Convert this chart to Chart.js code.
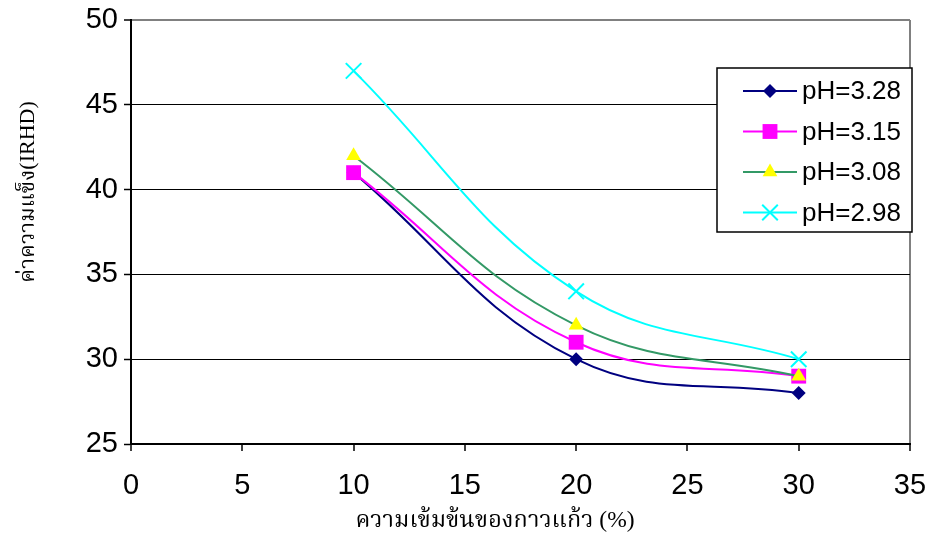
<!DOCTYPE html>
<html>
<head>
<meta charset="utf-8">
<script src="https://cdn.jsdelivr.net/npm/chart.js@4"></script>
<style>
  html, body { margin: 0; padding: 0; background: #fff; }
  #wrap { width: 934px; height: 538px; position: relative; }
</style>
</head>
<body>
<div id="wrap"><canvas id="chart"></canvas></div>
<script>
// glass-ionomer concentration (%) vs hardness (IRHD)
const concentration = [10, 20, 30]
const ph328 = [41, 30, 28]
const ph315 = [41, 31, 29]
const ph308 = [42, 32, 29]
const ph298 = [47, 34, 30]
const seriesNames = ['pH=3.28', 'pH=3.15', 'pH=3.08', 'pH=2.98']
const xTicks = [0, 5, 10, 15, 20, 25, 30, 35]
const yTicks = [25, 30, 35, 40, 45, 50]

const xTitle = 'ความเข้มข้นของกาวแก้ว (%)'
const yTitle = 'ค่าความแข็ง(IRHD)'

function pts(values) {
  return concentration.map((c, i) => ({ x: c, y: values[i] }))
}

const styles = [
  { line: '#000080', fill: '#000080', style: 'rectRot', radius: 7, bw: 0 },
  { line: '#FF00FF', fill: '#FF00FF', style: 'rect', radius: 10.5, bw: 0 },
  { line: '#339966', fill: '#FFFF00', style: 'triangle', radius: 8.5, bw: 0 },
  { line: '#00FFFF', fill: '#00FFFF', style: 'crossRot', radius: 11, bw: 2 }
]
const allValues = [ph328, ph315, ph308, ph298]

const datasets = allValues.map((vals, i) => ({
  label: seriesNames[i],
  data: pts(vals),
  borderColor: styles[i].line,
  borderWidth: 2,
  tension: 0.4,
  pointStyle: styles[i].style,
  pointRadius: styles[i].radius,
  pointBackgroundColor: styles[i].fill,
  pointBorderColor: styles[i].fill,
  pointBorderWidth: styles[i].bw,
  order: 3 - i
}))

const tickFont = { family: '"Liberation Sans", Arial, sans-serif', size: 29 }
const thaiFont = '"Liberation Serif", "Noto Serif Thai", "Noto Sans Thai", serif'

// keep the plot area fixed: no extra room for overhanging tick labels
function noPad(axis) {
  axis.paddingLeft = 0
  axis.paddingRight = 0
  axis.paddingTop = 0
  axis.paddingBottom = 0
}

// legend box and axis titles drawn straight on the canvas
const extras = {
  id: 'extras',
  afterDraw(chart) {
    const ctx = chart.ctx
    ctx.save()
    // legend
    const bx = 717, by = 68, bw = 195, bh = 164
    ctx.fillStyle = '#fff'
    ctx.fillRect(bx, by, bw, bh)
    ctx.strokeStyle = '#000'
    ctx.lineWidth = 1.5
    ctx.strokeRect(bx, by, bw, bh)
    ctx.font = '26px "Liberation Sans", Arial, sans-serif'
    ctx.textBaseline = 'middle'
    seriesNames.forEach((name, i) => {
      const y = 91 + i * 40.5
      const s = styles[i]
      ctx.strokeStyle = s.line
      ctx.lineWidth = 2
      ctx.beginPath()
      ctx.moveTo(743, y)
      ctx.lineTo(797, y)
      ctx.stroke()
      ctx.fillStyle = s.fill
      ctx.strokeStyle = s.fill
      ctx.lineWidth = s.bw
      Chart.helpers.drawPoint(ctx, { pointStyle: s.style, radius: s.radius, borderWidth: s.bw }, 770, y)
      ctx.fillStyle = '#000'
      ctx.fillText(name, 802, y + 1)
    })
    // axis titles
    ctx.fillStyle = '#000'
    ctx.textAlign = 'center'
    ctx.textBaseline = 'middle'
    ctx.font = '23.5px ' + thaiFont
    ctx.fillText(xTitle, 495, 521)
    ctx.font = '22px ' + thaiFont
    ctx.translate(28, 192)
    ctx.rotate(-Math.PI / 2)
    ctx.fillText(yTitle, 0, 0)
    ctx.restore()
  }
}

new Chart(document.getElementById('chart'), {
  type: 'line',
  data: { datasets },
  options: {
    responsive: true,
    maintainAspectRatio: false,
    animation: false,
    layout: { padding: { left: 0, top: 20, right: 24, bottom: 0 } },
    plugins: { legend: { display: false }, tooltip: { enabled: false } },
    scales: {
      x: {
        type: 'linear',
        min: 0,
        max: 35,
        afterBuildTicks: axis => { axis.ticks = xTicks.map(v => ({ value: v })) },
        afterFit: axis => { axis.height = 94; noPad(axis) },
        border: { color: '#000', width: 2 },
        grid: {
          color: c => c.tick && c.tick.value === 35 ? '#808080' : 'rgba(0,0,0,0)',
          lineWidth: 2,
          tickColor: '#000',
          tickLength: 7,
          tickWidth: 1.5
        },
        ticks: {
          color: '#000',
          font: tickFont,
          padding: 18,
          maxRotation: 0
        }
      },
      y: {
        min: 25,
        max: 50,
        afterBuildTicks: axis => { axis.ticks = yTicks.map(v => ({ value: v })) },
        afterFit: axis => { axis.width = 131; noPad(axis) },
        border: { color: '#000', width: 2 },
        grid: {
          color: c => c.tick && c.tick.value === 50 ? '#808080' : '#000',
          lineWidth: c => c.tick && c.tick.value === 50 ? 2 : 1,
          tickColor: '#000',
          tickLength: 7,
          tickWidth: 1.5
        },
        ticks: {
          color: '#000',
          font: tickFont,
          padding: 6
        }
      }
    }
  },
  plugins: [extras]
})
</script>
</body>
</html>
